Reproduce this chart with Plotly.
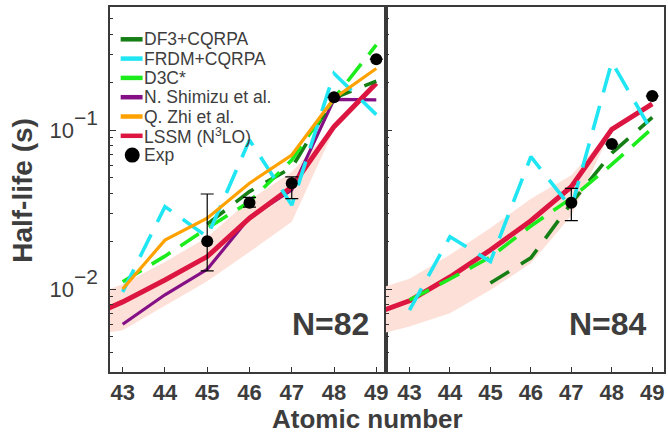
import plotly.graph_objects as go

# ---------------- data ----------------
Z = [43, 44, 45, 46, 47, 48, 49]
Z_LSSM = [42, 43, 44, 45, 46, 47, 48, 49]
Z_BAND = [42, 43, 44, 45, 46, 47, 48]
Z_DF3 = [45, 46, 47, 48, 49]
tick_labels = ["43", "44", "45", "46", "47", "48", "49"]
y_tick_vals = [0.01, 0.1]
y_tick_exps = ["−2", "−1"]

# N = 82
df3_82 = [0.0256, 0.041, 0.058, 0.159, 0.203]
frdm_82 = [0.0096, 0.033, 0.0213, 0.0865, 0.0337, 0.227, 0.125]
d3c_82 = [0.0111, 0.0161, 0.0241, 0.0354, 0.0647, 0.158, 0.343]
shimizu_82 = [0.0060, 0.0092, 0.0133, 0.0282, 0.042, 0.156, 0.155]
zhi_82 = [0.0100, 0.0203, 0.0279, 0.0463, 0.0697, 0.158, 0.244]
lssm_82 = [0.0063, 0.0083, 0.0114, 0.0160, 0.0279, 0.0438, 0.105, 0.197]
lssm_82_hi = [0.0085, 0.0107, 0.0148, 0.0212, 0.0363, 0.0545, 0.106]
lssm_82_lo = [0.0050, 0.0055, 0.0078, 0.0112, 0.0171, 0.0265, 0.100]
exp_82_z = [45, 46, 47, 48, 49]
exp_82 = [0.0200, 0.0349, 0.0463, 0.1607, 0.279]
exp_82_hi = [0.0396, 0.0377, 0.0508, None, None]
exp_82_lo = [0.0130, 0.0327, 0.0370, None, None]

# N = 84
df3_84 = [0.0109, 0.0157, 0.0347, 0.0716, 0.120]
frdm_84 = [0.00736, 0.0213, 0.0149, 0.068, 0.0323, 0.268, 0.097]
d3c_84 = [0.00853, 0.01156, 0.0159, 0.0249, 0.0373, 0.0608, 0.1026]
lssm_84 = [0.0068, 0.00843, 0.0119, 0.0176, 0.0269, 0.044, 0.101, 0.146]
lssm_84_hi = [0.0096, 0.0116, 0.0164, 0.0242, 0.037, 0.052, 0.101]
lssm_84_lo = [0.0050, 0.0058, 0.00703, 0.00986, 0.0145, 0.029, 0.101]
exp_84_z = [47, 48, 49]
exp_84 = [0.0349, 0.0816, 0.1637]
exp_84_hi = [0.043, None, None]
exp_84_lo = [0.0269, None, None]

legend_names = ["DF3+CQRPA", "FRDM+CQRPA", "D3C*", "N. Shimizu et al.",
                "Q. Zhi et al.", "LSSM (N<sup>3</sup>LO)", "Exp"]
panel_labels = ["N=82", "N=84"]

# ---------------- styles ----------------
C_DF3 = "#157f15"
C_FRDM = "#1fe6f2"
C_D3C = "#1cec1c"
C_SHI = "#850f85"
C_ZHI = "#ffa200"
C_LSSM = "#dc1640"
C_BAND = "#fde1d8"
TXT = "#3d3d3d"
FONT = "Liberation Sans, Arial, Helvetica, sans-serif"

W, H = 668, 434
ML, MR, MT, MB = 110, 2, 7, 62


def px(x):
    return (x - ML) / (W - ML - MR)


def py(y):
    return (H - MB - y) / (H - MT - MB)


fig = go.Figure()


def add_panel(xa, ya, band_hi, band_lo, lssm, df3, frdm, d3c, shi, zhi,
              ez, ev, ehi, elo):
    fig.add_trace(go.Scatter(
        x=Z_BAND + Z_BAND[::-1], y=band_hi + band_lo[::-1], fill="toself",
        fillcolor=C_BAND, line=dict(width=0), mode="lines",
        hoverinfo="skip", xaxis=xa, yaxis=ya, showlegend=False))
    if shi is not None:
        fig.add_trace(go.Scatter(x=Z, y=shi, mode="lines",
                                 line=dict(color=C_SHI, width=3.2),
                                 xaxis=xa, yaxis=ya, showlegend=False))
    fig.add_trace(go.Scatter(x=Z_LSSM, y=lssm, mode="lines",
                             line=dict(color=C_LSSM, width=5),
                             xaxis=xa, yaxis=ya, showlegend=False))
    fig.add_trace(go.Scatter(x=Z_DF3, y=df3, mode="lines",
                             line=dict(color=C_DF3, width=3.6, dash="22px,14px"),
                             xaxis=xa, yaxis=ya, showlegend=False))
    fig.add_trace(go.Scatter(x=Z, y=d3c, mode="lines",
                             line=dict(color=C_D3C, width=3.6, dash="22px,12px"),
                             xaxis=xa, yaxis=ya, showlegend=False))
    fig.add_trace(go.Scatter(x=Z, y=frdm, mode="lines",
                             line=dict(color=C_FRDM, width=3.6, dash="25px,14px"),
                             xaxis=xa, yaxis=ya, showlegend=False))
    if zhi is not None:
        fig.add_trace(go.Scatter(x=Z, y=zhi, mode="lines",
                                 line=dict(color=C_ZHI, width=3.2),
                                 xaxis=xa, yaxis=ya, showlegend=False))
    up = [h - v if h is not None else None for h, v in zip(ehi, ev)]
    dn = [v - l if l is not None else None for l, v in zip(elo, ev)]
    fig.add_trace(go.Scatter(
        x=ez, y=ev, mode="markers",
        marker=dict(color="black", size=12),
        error_y=dict(type="data", symmetric=False, array=up, arrayminus=dn,
                     color="black", thickness=1.2, width=6.5),
        xaxis=xa, yaxis=ya, showlegend=False))


add_panel("x", "y", lssm_82_hi, lssm_82_lo, lssm_82, df3_82, frdm_82, d3c_82,
          shimizu_82, zhi_82, exp_82_z, exp_82, exp_82_hi, exp_82_lo)
add_panel("x2", "y2", lssm_84_hi, lssm_84_lo, lssm_84, df3_84, frdm_84, d3c_84,
          None, None, exp_84_z, exp_84, exp_84_hi, exp_84_lo)

split = px(387)
xcommon = dict(tickmode="array", tickvals=Z, ticktext=tick_labels,
               ticks="inside", ticklen=5, tickwidth=1.2, tickcolor="#333333",
               showline=True, mirror=True, linecolor="#3a3a3a", linewidth=1.5,
               showgrid=False, zeroline=False, ticklabelstandoff=0,
               tickfont=dict(family=FONT, size=22, color=TXT, weight="bold"))
y_tick_text = ["10<span style=\"font-size:30px\"><sup>%s</sup></span>" % e
               for e in y_tick_exps]
ycommon = dict(type="log", range=[-2.522, -0.226],
               tickmode="array", tickvals=y_tick_vals, ticktext=y_tick_text,
               ticks="inside", ticklen=6,
               tickwidth=1.2, tickcolor="#333333",
               minor=dict(ticks="inside", ticklen=3.5, dtick="D1",
                          tickcolor="#333333", tickwidth=1, showgrid=False),
               showline=True, mirror=True, linecolor="#3a3a3a", linewidth=1.5,
               showgrid=False, zeroline=False,
               tickfont=dict(family=FONT, size=22, color=TXT))

fig.update_layout(
    width=W, height=H, margin=dict(l=ML, r=MR, t=MT, b=MB),
    paper_bgcolor="white", plot_bgcolor="white", showlegend=False,
    xaxis=dict(domain=[0, split], range=[42.70, 49.23], anchor="y", **xcommon),
    xaxis2=dict(domain=[split, 1], range=[42.42, 49.29], anchor="y2", **xcommon),
    yaxis=dict(anchor="x", ticklabelstandoff=6, **ycommon),
    yaxis2=dict(anchor="x2", showticklabels=False, **ycommon),
)

ann = []
ann.append(dict(text="Half-life (s)", x=px(22), y=py(190.5), xref="paper",
                yref="paper", showarrow=False, textangle=-90,
                xanchor="center", yanchor="middle",
                font=dict(family=FONT, size=28, color=TXT, weight="bold")))
ann.append(dict(text="Atomic number", x=px(368), y=py(419), xref="paper",
                yref="paper", showarrow=False, xanchor="center",
                yanchor="middle",
                font=dict(family=FONT, size=26, color=TXT, weight="bold")))
for lab, xr in zip(panel_labels, [372, 651]):
    ann.append(dict(text=lab, x=px(xr), y=py(324), xref="paper", yref="paper",
                    showarrow=False, xanchor="right", yanchor="middle",
                    font=dict(family=FONT, size=32, color=TXT, weight="bold")))

# hand-built legend (compact rows as in the reference)
leg_colors = [C_DF3, C_FRDM, C_D3C, C_SHI, C_ZHI, C_LSSM, "black"]
shapes = []
row0, step = 39.3, 19.3
for i, (name, col) in enumerate(zip(legend_names, leg_colors)):
    yy = row0 + i * step
    if name == "Exp":
        shapes.append(dict(type="circle", xref="paper", yref="paper",
                           xsizemode="pixel", ysizemode="pixel",
                           xanchor=px(132.3), yanchor=py(yy),
                           x0=-7.5, x1=7.5, y0=-7.5, y1=7.5,
                           fillcolor="black", line=dict(width=0)))
    else:
        shapes.append(dict(type="line", xref="paper", yref="paper",
                           x0=px(120.7), x1=px(142.7), y0=py(yy), y1=py(yy),
                           line=dict(color=col, width=4.5)))
    ann.append(dict(text=name, x=px(142), y=py(yy), xref="paper", yref="paper",
                    showarrow=False, xanchor="left", yanchor="middle",
                    font=dict(family=FONT, size=17.5, color=TXT)))

fig.update_layout(annotations=ann, shapes=shapes)
fig.write_html("out.html", config={"displayModeBar": False},
               post_script="document.body.style.margin='0px';"
                           "document.body.style.overflow='hidden';")
